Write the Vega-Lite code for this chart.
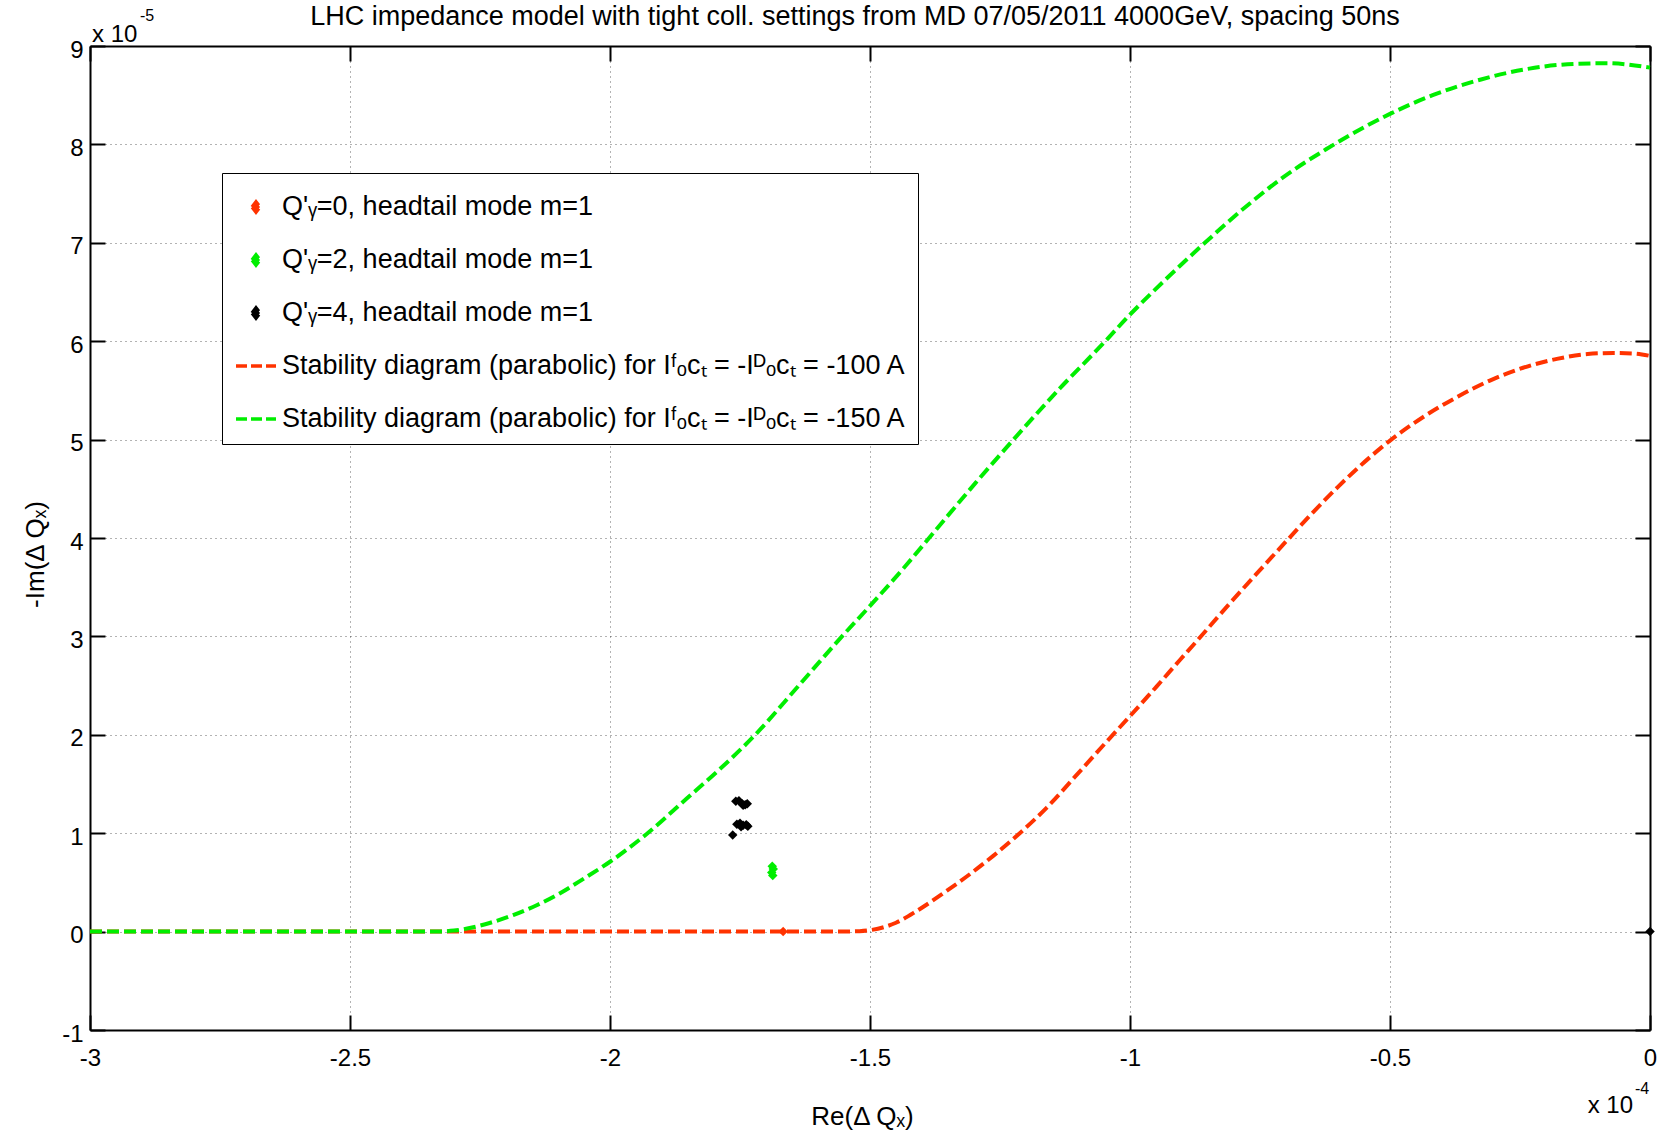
{
  "$schema": "https://vega.github.io/schema/vega-lite/v6.json",
  "width": 1560,
  "height": 984,
  "autosize": "none",
  "padding": {"left": 90, "top": 46, "right": 9, "bottom": 108},
  "background": "white",
  "title": {
    "text": "LHC impedance model with tight coll. settings from MD 07/05/2011 4000GeV, spacing 50ns",
    "fontSize": 27, "fontWeight": "normal", "font": "Liberation Sans", "color": "black",
    "anchor": "middle", "frame": "group", "offset": -44, "baseline": "alphabetic", "dx": -15
  },
  "datasets": {
    "sd100": [
      {"re": -3.0e-4, "im": 0, "series": "-100 A"},
      {"re": -2.5e-4, "im": 0, "series": "-100 A"},
      {"re": -2.0e-4, "im": 0, "series": "-100 A"},
      {"re": -1.7e-4, "im": 0, "series": "-100 A"},
      {"re": -1.56e-4, "im": 0, "series": "-100 A"},
      {"re": -1.52e-4, "im": 0.004e-5, "series": "-100 A"},
      {"re": -1.498e-4, "im": 0.016e-5, "series": "-100 A"},
      {"re": -1.45e-4, "im": 0.09e-5, "series": "-100 A"},
      {"re": -1.41e-4, "im": 0.21e-5, "series": "-100 A"},
      {"re": -1.359e-4, "im": 0.39e-5, "series": "-100 A"},
      {"re": -1.314e-4, "im": 0.56e-5, "series": "-100 A"},
      {"re": -1.263e-4, "im": 0.77e-5, "series": "-100 A"},
      {"re": -1.212e-4, "im": 1.0e-5, "series": "-100 A"},
      {"re": -1.16e-4, "im": 1.26e-5, "series": "-100 A"},
      {"re": -1.103e-4, "im": 1.59e-5, "series": "-100 A"},
      {"re": -1.045e-4, "im": 1.93e-5, "series": "-100 A"},
      {"re": -1.0e-4, "im": 2.19e-5, "series": "-100 A"},
      {"re": -0.949e-4, "im": 2.49e-5, "series": "-100 A"},
      {"re": -0.904e-4, "im": 2.76e-5, "series": "-100 A"},
      {"re": -0.872e-4, "im": 2.95e-5, "series": "-100 A"},
      {"re": -0.814e-4, "im": 3.3e-5, "series": "-100 A"},
      {"re": -0.756e-4, "im": 3.64e-5, "series": "-100 A"},
      {"re": -0.699e-4, "im": 3.97e-5, "series": "-100 A"},
      {"re": -0.65e-4, "im": 4.25e-5, "series": "-100 A"},
      {"re": -0.6e-4, "im": 4.52e-5, "series": "-100 A"},
      {"re": -0.558e-4, "im": 4.73e-5, "series": "-100 A"},
      {"re": -0.5e-4, "im": 4.99e-5, "series": "-100 A"},
      {"re": -0.436e-4, "im": 5.23e-5, "series": "-100 A"},
      {"re": -0.372e-4, "im": 5.43e-5, "series": "-100 A"},
      {"re": -0.308e-4, "im": 5.6e-5, "series": "-100 A"},
      {"re": -0.244e-4, "im": 5.73e-5, "series": "-100 A"},
      {"re": -0.179e-4, "im": 5.82e-5, "series": "-100 A"},
      {"re": -0.12e-4, "im": 5.87e-5, "series": "-100 A"},
      {"re": -0.07e-4, "im": 5.88e-5, "series": "-100 A"},
      {"re": -0.03e-4, "im": 5.875e-5, "series": "-100 A"},
      {"re": 0, "im": 5.85e-5, "series": "-100 A"}
    ],
    "sd150": [
      {"re": -3.0e-4, "im": 0, "series": "-150 A"},
      {"re": -2.5e-4, "im": 0, "series": "-150 A"},
      {"re": -2.34e-4, "im": 0, "series": "-150 A"},
      {"re": -2.30e-4, "im": 0.01e-5, "series": "-150 A"},
      {"re": -2.281e-4, "im": 0.025e-5, "series": "-150 A"},
      {"re": -2.23e-4, "im": 0.09e-5, "series": "-150 A"},
      {"re": -2.185e-4, "im": 0.17e-5, "series": "-150 A"},
      {"re": -2.14e-4, "im": 0.27e-5, "series": "-150 A"},
      {"re": -2.096e-4, "im": 0.39e-5, "series": "-150 A"},
      {"re": -2.05e-4, "im": 0.54e-5, "series": "-150 A"},
      {"re": -2.0e-4, "im": 0.71e-5, "series": "-150 A"},
      {"re": -1.93e-4, "im": 0.99e-5, "series": "-150 A"},
      {"re": -1.853e-4, "im": 1.35e-5, "series": "-150 A"},
      {"re": -1.789e-4, "im": 1.65e-5, "series": "-150 A"},
      {"re": -1.719e-4, "im": 2.01e-5, "series": "-150 A"},
      {"re": -1.642e-4, "im": 2.47e-5, "series": "-150 A"},
      {"re": -1.559e-4, "im": 2.97e-5, "series": "-150 A"},
      {"re": -1.5e-4, "im": 3.31e-5, "series": "-150 A"},
      {"re": -1.431e-4, "im": 3.72e-5, "series": "-150 A"},
      {"re": -1.38e-4, "im": 4.04e-5, "series": "-150 A"},
      {"re": -1.297e-4, "im": 4.56e-5, "series": "-150 A"},
      {"re": -1.219e-4, "im": 5.03e-5, "series": "-150 A"},
      {"re": -1.135e-4, "im": 5.52e-5, "series": "-150 A"},
      {"re": -1.051e-4, "im": 5.98e-5, "series": "-150 A"},
      {"re": -1.0e-4, "im": 6.27e-5, "series": "-150 A"},
      {"re": -0.921e-4, "im": 6.68e-5, "series": "-150 A"},
      {"re": -0.856e-4, "im": 7.0e-5, "series": "-150 A"},
      {"re": -0.772e-4, "im": 7.39e-5, "series": "-150 A"},
      {"re": -0.707e-4, "im": 7.66e-5, "series": "-150 A"},
      {"re": -0.623e-4, "im": 7.95e-5, "series": "-150 A"},
      {"re": -0.548e-4, "im": 8.18e-5, "series": "-150 A"},
      {"re": -0.5e-4, "im": 8.31e-5, "series": "-150 A"},
      {"re": -0.418e-4, "im": 8.5e-5, "series": "-150 A"},
      {"re": -0.325e-4, "im": 8.66e-5, "series": "-150 A"},
      {"re": -0.232e-4, "im": 8.77e-5, "series": "-150 A"},
      {"re": -0.139e-4, "im": 8.82e-5, "series": "-150 A"},
      {"re": -0.083e-4, "im": 8.825e-5, "series": "-150 A"},
      {"re": 0, "im": 8.78e-5, "series": "-150 A"}
    ],
    "modes": [
      {"re": -1.667e-4, "im": 0, "series": "q0"},
      {"re": -1.688e-4, "im": 0.665e-5, "series": "q2"},
      {"re": -1.686e-4, "im": 0.635e-5, "series": "q2"},
      {"re": -1.689e-4, "im": 0.60e-5, "series": "q2"},
      {"re": -1.687e-4, "im": 0.57e-5, "series": "q2"},
      {"re": -1.758e-4, "im": 1.325e-5, "series": "q4"},
      {"re": -1.752e-4, "im": 1.33e-5, "series": "q4"},
      {"re": -1.746e-4, "im": 1.30e-5, "series": "q4"},
      {"re": -1.740e-4, "im": 1.29e-5, "series": "q4"},
      {"re": -1.736e-4, "im": 1.30e-5, "series": "q4"},
      {"re": -1.744e-4, "im": 1.285e-5, "series": "q4"},
      {"re": -1.756e-4, "im": 1.09e-5, "series": "q4"},
      {"re": -1.750e-4, "im": 1.10e-5, "series": "q4"},
      {"re": -1.744e-4, "im": 1.08e-5, "series": "q4"},
      {"re": -1.738e-4, "im": 1.085e-5, "series": "q4"},
      {"re": -1.735e-4, "im": 1.07e-5, "series": "q4"},
      {"re": -1.748e-4, "im": 1.065e-5, "series": "q4"},
      {"re": -1.764e-4, "im": 0.982e-5, "series": "q4"},
      {"re": 0, "im": 0, "series": "q4"}
    ]
  },
  "layer": [
    {
      "data": {"name": "sd100"},
      "mark": {"type": "line", "strokeWidth": 4, "strokeDash": [12, 5], "interpolate": "monotone"},
      "encoding": {
        "x": {
          "field": "re", "type": "quantitative",
          "scale": {"domain": [-3e-4, 0], "nice": false, "zero": false},
          "axis": {
            "orient": "bottom",
            "values": [-3e-4, -2.5e-4, -2e-4, -1.5e-4, -1e-4, -0.5e-4, 0],
            "labelExpr": "'' + round(datum.value*1e5)/10",
            "title": "Re(Δ Qₓ)", "titleX": 772, "titleY": 86,
            "titleBaseline": "middle", "titleAlign": "center", "titleAngle": 0,
            "labelPadding": 31, "grid": true
          }
        },
        "y": {
          "field": "im", "type": "quantitative",
          "scale": {"domain": [-1e-5, 9e-5], "nice": false, "zero": false},
          "axis": {
            "orient": "left",
            "values": [-1e-5, 0, 1e-5, 2e-5, 3e-5, 4e-5, 5e-5, 6e-5, 7e-5, 8e-5, 9e-5],
            "labelExpr": "'' + round(datum.value*1e5)",
            "title": "-Im(Δ Qₓ)", "titleX": -55, "titleY": 508, "titleAngle": 270,
            "titleBaseline": "middle", "titleAlign": "center",
            "labelPadding": 22, "labelOffset": 4, "grid": true
          }
        },
        "color": {
          "field": "series", "type": "nominal",
          "scale": {
            "domain": ["q0", "q2", "q4", "-100 A", "-150 A"],
            "range": ["#ff3300", "#00ee00", "#000000", "#ff3300", "#00ee00"]
          },
          "legend": {
            "orient": "none", "legendX": 132, "legendY": 127, "title": null,
            "fillColor": "white", "strokeColor": "black", "padding": 12,
            "symbolSize": 1600, "symbolStrokeWidth": 3.5, "symbolDash": [11, 4],
            "labelFontSize": 27, "labelFont": "Liberation Sans", "labelColor": "black",
            "labelOffset": 4, "rowPadding": 18, "labelLimit": 1000,
            "labelExpr": "datum.value == 'q0' ? \"Q'ᵧ=0, headtail mode m=1\" : datum.value == 'q2' ? \"Q'ᵧ=2, headtail mode m=1\" : datum.value == 'q4' ? \"Q'ᵧ=4, headtail mode m=1\" : 'Stability diagram (parabolic) for Iᶠₒcₜ = -Iᴰₒcₜ = ' + datum.value",
            "encode": {
              "symbols": {
                "update": {
                  "shape": [
                    {"test": "indexof(datum.value, ' A') >= 0", "value": "stroke"},
                    {"value": "M-0.2,0L0,-0.26L0.2,0L0,0.26Z"}
                  ],
                  "fill": [
                    {"test": "indexof(datum.value, ' A') >= 0", "value": "transparent"},
                    {"scale": "color", "field": "value"}
                  ],
                  "stroke": [
                    {"test": "indexof(datum.value, ' A') >= 0", "scale": "color", "field": "value"},
                    {"value": "transparent"}
                  ],
                  "opacity": {"value": 1}
                }
              }
            }
          }
        }
      }
    },
    {
      "data": {"name": "sd150"},
      "mark": {"type": "line", "strokeWidth": 4, "strokeDash": [12, 5], "interpolate": "monotone"},
      "encoding": {
        "x": {
          "field": "re", "type": "quantitative",
          "axis": {
            "orient": "top",
            "values": [-3e-4, -2.5e-4, -2e-4, -1.5e-4, -1e-4, -0.5e-4, 0],
            "labels": false, "title": null, "grid": false
          }
        },
        "y": {
          "field": "im", "type": "quantitative",
          "axis": {
            "orient": "right",
            "values": [-1e-5, 0, 1e-5, 2e-5, 3e-5, 4e-5, 5e-5, 6e-5, 7e-5, 8e-5, 9e-5],
            "labels": false, "title": null, "grid": false
          }
        },
        "color": {"field": "series", "type": "nominal"}
      }
    },
    {
      "data": {"name": "modes"},
      "mark": {"type": "point", "shape": "diamond", "filled": true, "size": 90, "opacity": 1, "strokeWidth": 0},
      "encoding": {
        "x": {"field": "re", "type": "quantitative", "axis": null},
        "y": {"field": "im", "type": "quantitative", "axis": null},
        "color": {"field": "series", "type": "nominal"}
      }
    },
    {
      "data": {"values": [{}]},
      "mark": {"type": "text", "text": "x 10", "align": "left", "baseline": "alphabetic", "dx": 2, "dy": -4, "fontSize": 24, "font": "Liberation Sans", "color": "black"},
      "encoding": {
        "x": {"datum": -3e-4, "type": "quantitative", "axis": null},
        "y": {"datum": 9e-5, "type": "quantitative", "axis": null}
      }
    },
    {
      "data": {"values": [{}]},
      "mark": {"type": "text", "text": "-5", "align": "left", "baseline": "alphabetic", "dx": 50, "dy": -25, "fontSize": 16, "font": "Liberation Sans", "color": "black"},
      "encoding": {
        "x": {"datum": -3e-4, "type": "quantitative", "axis": null},
        "y": {"datum": 9e-5, "type": "quantitative", "axis": null}
      }
    },
    {
      "data": {"values": [{}]},
      "mark": {"type": "text", "text": "x 10", "align": "right", "baseline": "alphabetic", "dx": -17, "dy": 83, "fontSize": 24, "font": "Liberation Sans", "color": "black"},
      "encoding": {
        "x": {"datum": 0, "type": "quantitative", "axis": null},
        "y": {"datum": -1e-5, "type": "quantitative", "axis": null}
      }
    },
    {
      "data": {"values": [{}]},
      "mark": {"type": "text", "text": "-4", "align": "left", "baseline": "alphabetic", "dx": -15, "dy": 64, "fontSize": 16, "font": "Liberation Sans", "color": "black"},
      "encoding": {
        "x": {"datum": 0, "type": "quantitative", "axis": null},
        "y": {"datum": -1e-5, "type": "quantitative", "axis": null}
      }
    }
  ],
  "resolve": {"axis": {"x": "independent", "y": "independent"}},
  "config": {
    "font": "Liberation Sans",
    "view": {"stroke": null},
    "axis": {
      "domainColor": "black", "domainWidth": 2,
      "tickColor": "black", "tickWidth": 2, "tickSize": -15,
      "labelFont": "Liberation Sans", "labelFontSize": 24, "labelColor": "black",
      "labelFlush": false, "labelOverlap": false,
      "gridColor": "black", "gridDash": [1, 4], "gridWidth": 1, "gridOpacity": 0.6,
      "titleFont": "Liberation Sans", "titleFontSize": 26, "titleFontWeight": "normal", "titleColor": "black"
    }
  }
}
